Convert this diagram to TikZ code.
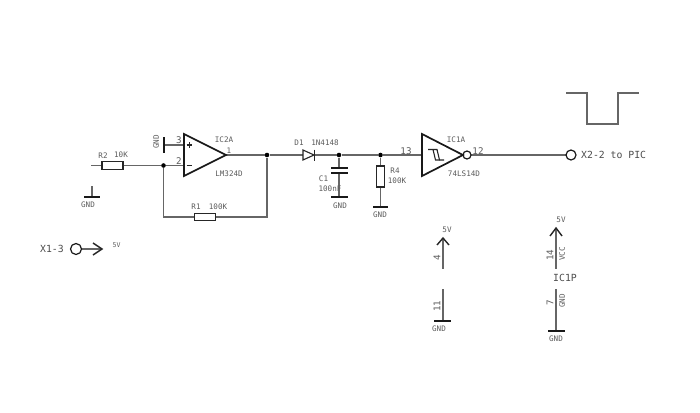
\documentclass[tikz,border=0pt]{standalone}
\usepackage{fontspec}
\setmainfont{DejaVu Sans Mono}
\definecolor{txt}{gray}{0.36}
\definecolor{wire}{gray}{0.4}
\tikzset{
  x=1pt,y=-1pt,
  wireline/.style={draw=wire,line width=1.25pt},
  symline/.style={draw=black!90,line width=1.7pt,line join=miter},
  sym/.style={draw=black!85,line width=1.1pt},
  lab/.style={text=txt,inner sep=0pt,font=\fontsize{7.6}{8}\selectfont},
  pin/.style={text=txt,inner sep=0pt,font=\fontsize{9.2}{10}\selectfont},
  big/.style={text=black!70,inner sep=0pt,font=\fontsize{9.8}{11}\selectfont},
  res/.style={draw=black!85,line width=1.1pt,fill=white,minimum width=21pt,minimum height=7.5pt,inner sep=0pt},
  resv/.style={draw=black!85,line width=1.1pt,fill=white,minimum width=7.5pt,minimum height=21pt,inner sep=0pt},
  junction/.style={circle,fill=black,minimum size=4.6pt,inner sep=0pt},
  term/.style={circle,draw=black!90,line width=1.2pt,fill=white,inner sep=0pt},
  opentip/.style={draw=black!85,line width=1.3pt}
}
\begin{document}
\begin{tikzpicture}
\useasboundingbox[fill=white] (0,0) rectangle (700,412);
% coordinates
\coordinate (oaP) at (184,145);
\coordinate (oaN) at (184,165.5);
\coordinate (oaO) at (226,155);
\coordinate (stP) at (422,155);
\coordinate (stO) at (463,155);
\node[junction] (j1) at (163.5,165.5) {};
\node[junction] (j2) at (267,155) {};
\node[junction] (j3) at (339,155) {};
\node[junction] (j4) at (380.5,155) {};
\node[res] (R2) at (112.5,165.5) {};
\node[res] (R1) at (205,217) {};
\node[resv] (R4) at (380.5,176.5) {};
\coordinate (X2) at (571,155);
\coordinate (inv) at (467,155);
\coordinate (X1) at (76,249);
\coordinate (r2l) at (91,165.5);
\coordinate (dA) at (303,155);
\coordinate (dK) at (315,155);
\coordinate (c1a) at (339,168);
\coordinate (c1b) at (339,173);
\coordinate (c1g) at (339,197);
\coordinate (r4g) at (380.5,207);
\coordinate (g2) at (92,197);
\coordinate (g2t) at (92,186);
\coordinate (g3) at (164,145);
\coordinate (x1t) at (102,249);
% wires
\draw[wireline] (r2l) -- (R2.west);
\draw[wireline] (R2.east) -- (j1);
\draw[wireline] (j1) -- (oaN);
\draw[wireline] (j1) |- (R1.west);
\draw[wireline] (R1.east) -| (j2);
\draw[wireline] (oaO) -- (j2) -- (dA);
\draw[wireline] (dK) -- (j3) -- (j4) -- (stP);
\draw[wireline] (j3) -- (c1a);
\draw[wireline] (c1b) -- (c1g);
\draw[wireline] (j4) -- (R4.north);
\draw[wireline] (R4.south) -- (r4g);
\draw[wireline] (inv) -- (X2);
\draw[wireline] (g2t) -- (g2);
\draw[wireline] (g3) -- (oaP);
\draw[wireline] (X1) -- (x1t);
% terminals
\node[term,minimum size=10pt] (tmX2) at (X2) {};
\node[term,minimum size=8pt] (tmInv) at (inv) {};
\node[term,minimum size=11pt] (tmX1) at (X1) {};
% op amp
\draw[symline] (184,134) -- (184,176) -- (oaO) -- cycle;
\draw[sym] (186.5,145) -- (192,145) (189.2,142.2) -- (189.2,147.8);
\draw[sym] (186.5,165.5) -- (192,165.5);
% schmitt
\draw[symline] (422,134) -- (422,176) -- (stO) -- cycle;
\draw[sym] (428,149.5) -- (437,149.5) -- (439.5,160) -- (444,160);
\draw[sym] (433,149.5) -- (435.5,160) -- (439.5,160);
% diode
\draw[sym] (303,150) -- (303,160) -- (314,155) -- cycle;
\draw[sym] (314.5,149.5) -- (314.5,160.5);
% capacitor
\draw[symline] (331,168) -- (348,168);
\draw[symline] (331,173) -- (348,173);
% ground bars
\draw[symline,line width=1.3pt] (331,197) -- (348,197);
\draw[symline,line width=1.3pt] (373,207) -- (388,207);
\draw[symline,line width=1.3pt] (84,197) -- (100,197);
\draw[symline,line width=1.3pt] (164,137) -- (164,153);
% input arrow
\draw[opentip,line width=1.5pt] (93,243) -- (102,249) -- (93,255);
% waveform
\draw[wireline,line width=1.3pt] (566,93) -- (587,93) -- (587,124) -- (618,124) -- (618,93) -- (639,93);
% power
\coordinate (p1t) at (443,238); \coordinate (p1b) at (443,269);
\coordinate (p2t) at (443,289); \coordinate (p2b) at (443,321);
\coordinate (p3t) at (556,228); \coordinate (p3b) at (556,269);
\coordinate (p4t) at (556,289); \coordinate (p4b) at (556,331);
\draw[wireline] (p1t) -- (p1b);
\draw[wireline] (p2t) -- (p2b);
\draw[wireline] (p3t) -- (p3b);
\draw[wireline] (p4t) -- (p4b);
\draw[opentip,line width=1.4pt] (437,245) -- (443,238) -- (449,245);
\draw[opentip,line width=1.4pt] (550,236) -- (556,228) -- (562,236);
\draw[symline,line width=1.3pt] (434,321) -- (451,321);
\draw[symline,line width=1.3pt] (548,331) -- (565,331);
% labels
\node[lab] (tIC2A) at (224,140) {IC2A};
\node[lab] (t1) at (229,151) {1};
\node[lab] (tLM) at (229,174) {LM324D};
\node[pin] (t3) at (179,140.5) {3};
\node[pin] (t2) at (179,161) {2};
\node[lab,rotate=90] (tG1) at (156,142) {GND};
\node[lab] (tR2) at (103,156) {R2};
\node[lab] (t10K) at (121,155) {10K};
\node[lab] (tG2) at (88,205) {GND};
\node[lab] (tR1) at (196,207) {R1};
\node[lab] (t100K) at (218,207) {100K};
\node[lab] (tD1) at (299,143) {D1};
\node[lab] (tN) at (325,143) {1N4148};
\node[lab] (tC1) at (323.5,179) {C1};
\node[lab] (tC) at (330,189) {100nF};
\node[lab] (tG3) at (340,206) {GND};
\node[lab] (tR4) at (395,171) {R4};
\node[lab] (t100K2) at (397,181) {100K};
\node[lab] (tG4) at (380,215) {GND};
\node[pin] (t13) at (406,151) {13};
\node[lab] (tIC1) at (456,140) {IC1A};
\node[pin] (t12) at (478,151) {12};
\node[lab] (t74) at (464,174) {74LS14D};
\node[big,anchor=west] (tX2) at (581,155) {X2-2 to PIC};
\node[big] (tX1) at (52,249) {X1-3};
\node[lab,font=\fontsize{6.5}{7}\selectfont] (t5a) at (116.5,245) {5V};
\node[lab] (t5b) at (447,230) {5V};
\node[lab] (t5c) at (561,220) {5V};
\node[pin,rotate=90] (t4) at (437,258) {4};
\node[pin,rotate=90] (t11) at (437,306) {11};
\node[lab] (tG5) at (439,329) {GND};
\node[pin,rotate=90] (t14) at (550,255) {14};
\node[lab,rotate=90] (tV) at (562,254) {VCC};
\node[big] (tP) at (565,278) {IC1P};
\node[pin,rotate=90] (t7) at (550,303) {7};
\node[lab,rotate=90] (tG6) at (562,301) {GND};
\node[lab] (tG7) at (556,339) {GND};
\end{tikzpicture}
\end{document}
